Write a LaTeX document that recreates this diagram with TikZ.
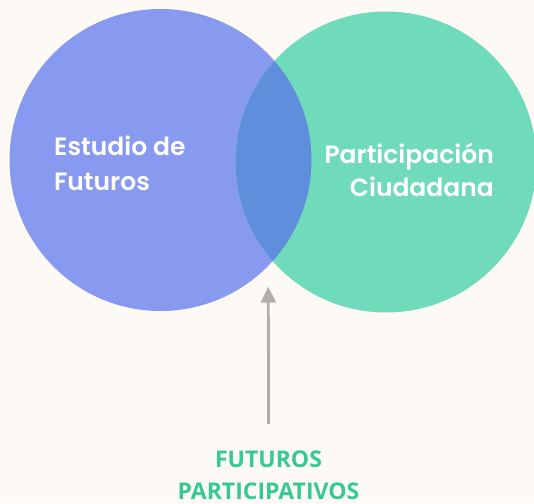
\documentclass[tikz,border=0pt]{standalone}
\usepackage{fontspec}
\newfontfamily\circlefont{Poppins SemiBold}
\newfontfamily\bottomfont{Open Sans}
\definecolor{bgcream}{HTML}{FDFAF5}
\definecolor{futblue}{HTML}{889AEF}
\definecolor{pargreen}{HTML}{6FDBBB}
\definecolor{lensblue}{HTML}{5F8EDD}
\definecolor{arrowgray}{HTML}{B1AEAC}
\definecolor{titlegreen}{HTML}{36C995}
\usetikzlibrary{arrows.meta}
\tikzset{
 circlelabel/.style={text=white, inner sep=0pt, font=\circlefont\fontsize{25}{35.5}\selectfont},
}
\begin{document}
\begin{tikzpicture}[x=1pt, y=-1pt]
 \useasboundingbox (0, 0) rectangle (534, 503) ;
 \clip (0, 0) rectangle (534, 503) ;
 \fill[bgcream] (0, 0) rectangle (534, 503) ;

 \fill[futblue] (160.5, 160) circle [radius=151pt] ;
 \fill[pargreen] (386, 162) circle [radius=150.5pt] ;
 \begin{scope}
  \clip (160.5, 160) circle [radius=151pt] ;
  \fill[lensblue] (386, 162) circle [radius=150.5pt] ;
 \end{scope}

 \node[circlelabel, align=left, anchor=west] (est) at (54, 163.5) {Estudio de\\Futuros} ;
 \node[circlelabel, align=right, anchor=east, font=\circlefont\fontsize{25}{33.5}\selectfont] (par) at (494, 170) {Participación\\Ciudadana} ;

 \node[text=titlegreen, inner sep=0pt, align=center, font=\bottomfont\bfseries\fontsize{23}{32}\selectfont] (fp) at (268.5, 475.5) {FUTUROS\\PARTICIPATIVOS} ;

 \coordinate (tip) at (268.3, 286.7) ;
 \draw[arrowgray, line width=2.8pt, -{Triangle[width=15pt, length=16pt]}] ([yshift=27pt]fp.north) -- (tip) ;
\end{tikzpicture}
\end{document}
